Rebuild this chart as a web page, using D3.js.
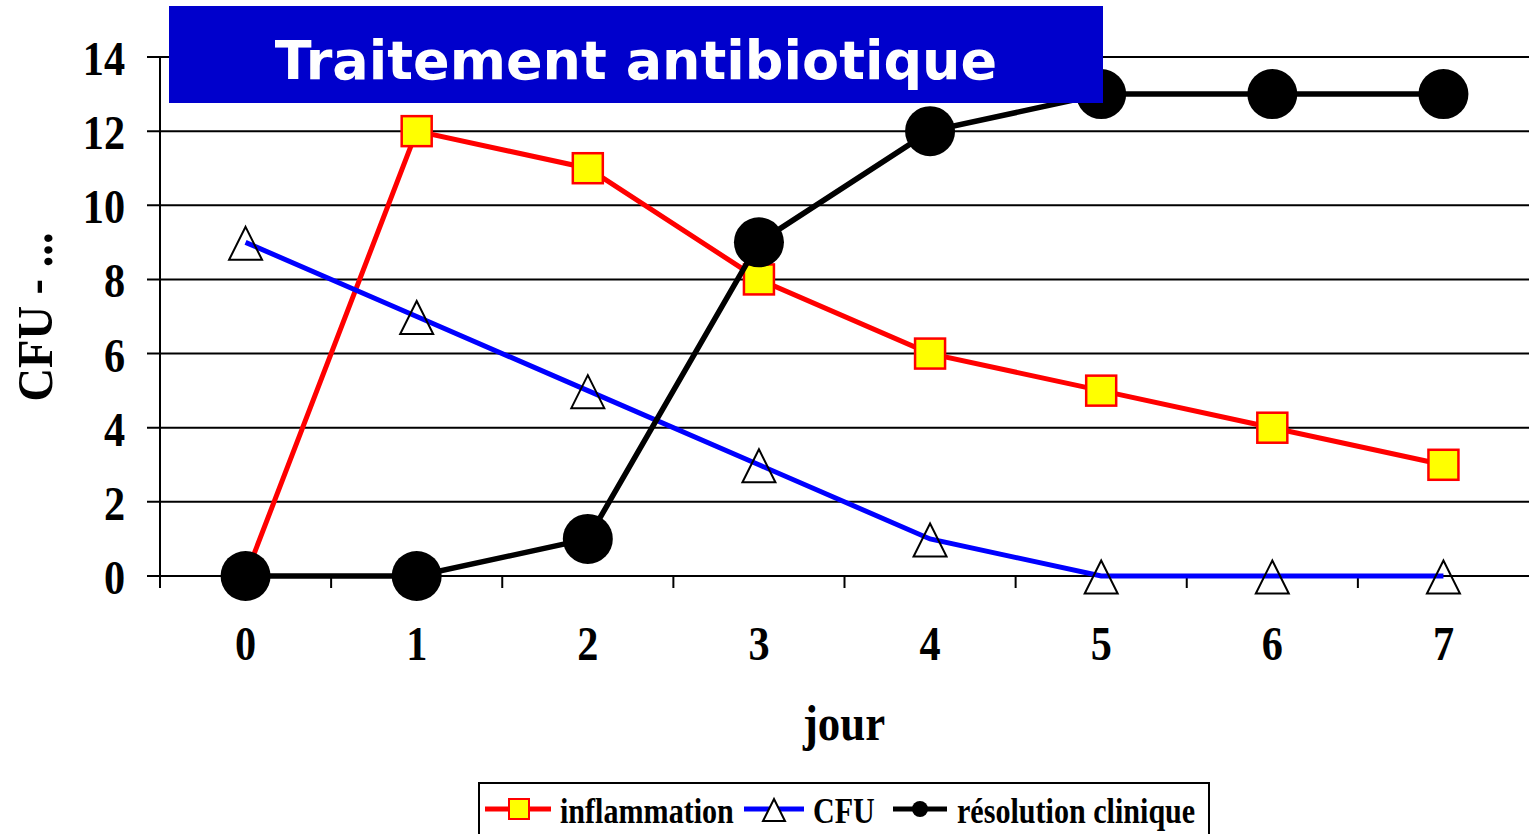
<!DOCTYPE html>
<html>
<head>
<meta charset="utf-8">
<script src="https://cdn.jsdelivr.net/npm/d3@7"></script>
<style>
  body { margin: 0; background: #fff; }
  svg text { font-family: "Liberation Serif", "Times New Roman", serif; font-weight: bold; }
</style>
</head>
<body>
<div id="chart"></div>
<script>
// Data
const days = [0, 1, 2, 3, 4, 5, 6, 7];
const inflammation = [0, 12, 11, 8, 6, 5, 4, 3];
const cfu = [9, 7, 5, 3, 1, 0, 0, 0];
const resolution = [0, 0, 1, 9, 12, 13, 13, 13];
const yTicks = [0, 2, 4, 6, 8, 10, 12, 14];

const width = 1529, height = 834;
const margin = { left: 160, right: 0, top: 57, bottom: 258 };
const squeeze = 0.88; // the original text is narrow, like a stretched Times

const svg = d3.select("#chart")
    .append("svg")
    .attr("width", width)
    .attr("height", height);

const x = d3.scaleBand()
    .domain(days)
    .range([margin.left, width - margin.right])
    .paddingInner(0).paddingOuter(0);

const y = d3.scaleLinear()
    .domain([0, 14])
    .range([height - margin.bottom, margin.top]);

const cx = d => x(d) + x.bandwidth() / 2;

// hollow triangle marker, about 33px wide and tall
const triangle = {
    draw(ctx, size) {
        const h = Math.sqrt(size);
        ctx.moveTo(0, -h / 2);
        ctx.lineTo(h / 2, h / 2);
        ctx.lineTo(-h / 2, h / 2);
        ctx.closePath();
    }
};

// Gridlines
svg.append("g")
    .selectAll("line")
    .data(yTicks)
    .enter()
    .append("line")
    .attr("x1", margin.left - 13)
    .attr("x2", width)
    .attr("y1", d => y(d))
    .attr("y2", d => y(d))
    .attr("stroke", "#000")
    .attr("stroke-width", 2);

// Y axis line
svg.append("line")
    .attr("x1", margin.left).attr("x2", margin.left)
    .attr("y1", y(14)).attr("y2", y(0) + 12)
    .attr("stroke", "#000").attr("stroke-width", 2);

// X ticks at category boundaries
svg.append("g")
    .selectAll("line")
    .data(days.slice(1))
    .enter()
    .append("line")
    .attr("x1", d => x(d)).attr("x2", d => x(d))
    .attr("y1", y(0)).attr("y2", y(0) + 12)
    .attr("stroke", "#000").attr("stroke-width", 2);

// Y tick labels
svg.append("g")
    .selectAll("text")
    .data(yTicks)
    .enter()
    .append("text")
    .attr("transform", d => `translate(125,${y(d) + 18}) scale(${squeeze},1)`)
    .attr("text-anchor", "end")
    .attr("font-size", "48px")
    .text(d => d);

// X tick labels
svg.append("g")
    .selectAll("text")
    .data(days)
    .enter()
    .append("text")
    .attr("transform", d => `translate(${cx(d)},660) scale(${squeeze},1)`)
    .attr("text-anchor", "middle")
    .attr("font-size", "48px")
    .text(d => d);

// Axis titles
svg.append("text")
    .attr("transform", `translate(844,740) scale(${squeeze},1)`)
    .attr("text-anchor", "middle")
    .attr("font-size", "51px")
    .text("jour");

svg.append("text")
    .attr("transform", "translate(52,317) rotate(-90) scale(0.93,1)")
    .attr("text-anchor", "middle")
    .attr("font-size", "50px")
    .text("CFU - ...");

const line = d3.line()
    .x((d, i) => cx(days[i]))
    .y(d => y(d));

// inflammation
svg.append("path")
    .datum(inflammation)
    .attr("d", line)
    .attr("fill", "none")
    .attr("stroke", "#ff0000")
    .attr("stroke-width", 5);

svg.append("g")
    .selectAll("rect")
    .data(inflammation)
    .enter()
    .append("rect")
    .attr("x", (d, i) => cx(days[i]) - 15)
    .attr("y", d => y(d) - 15)
    .attr("width", 30)
    .attr("height", 30)
    .attr("fill", "#ffff00")
    .attr("stroke", "#ff0000")
    .attr("stroke-width", 2.5);

// CFU
svg.append("path")
    .datum(cfu)
    .attr("d", line)
    .attr("fill", "none")
    .attr("stroke", "#0000ff")
    .attr("stroke-width", 5);

const tri = d3.symbol().type(triangle).size(33 * 33);
svg.append("g")
    .selectAll("path")
    .data(cfu)
    .enter()
    .append("path")
    .attr("d", tri)
    .attr("transform", (d, i) => `translate(${cx(days[i])},${y(d) + 1})`)
    .attr("fill", "none")
    .attr("stroke", "#000")
    .attr("stroke-width", 2);

// résolution clinique
svg.append("path")
    .datum(resolution)
    .attr("d", line)
    .attr("fill", "none")
    .attr("stroke", "#000")
    .attr("stroke-width", 5.5);

svg.append("g")
    .selectAll("circle")
    .data(resolution)
    .enter()
    .append("circle")
    .attr("cx", (d, i) => cx(days[i]))
    .attr("cy", d => y(d))
    .attr("r", 25)
    .attr("fill", "#000");

// Title box
svg.append("rect")
    .attr("x", 169).attr("y", 6)
    .attr("width", 934).attr("height", 97)
    .attr("fill", "#0000cc");

svg.append("text")
    .attr("x", 636).attr("y", 79)
    .attr("text-anchor", "middle")
    .attr("font-size", "54px")
    .attr("fill", "#fff")
    .style("font-family", "'Comic Sans MS', 'DejaVu Sans', sans-serif")
    .text("Traitement antibiotique");

// Legend
const legend = svg.append("g");
legend.append("rect")
    .attr("x", 479).attr("y", 783)
    .attr("width", 730).attr("height", 60)
    .attr("fill", "#fff")
    .attr("stroke", "#000")
    .attr("stroke-width", 2);

const ly = 809;
const legendText = (lx, txt) => legend.append("text")
    .attr("transform", `translate(${lx},${ly + 14}) scale(0.86,1)`)
    .attr("font-size", "35px")
    .text(txt);

legend.append("line").attr("x1", 485).attr("x2", 551).attr("y1", ly).attr("y2", ly)
    .attr("stroke", "#ff0000").attr("stroke-width", 5);
legend.append("rect").attr("x", 509).attr("y", ly - 10).attr("width", 20).attr("height", 20)
    .attr("fill", "#ffff00").attr("stroke", "#ff0000").attr("stroke-width", 2);
legendText(560, "inflammation");

legend.append("line").attr("x1", 744).attr("x2", 804).attr("y1", ly).attr("y2", ly)
    .attr("stroke", "#0000ff").attr("stroke-width", 5);
legend.append("path").attr("d", d3.symbol().type(triangle).size(22 * 22))
    .attr("transform", `translate(774,${ly + 1})`)
    .attr("fill", "#fff").attr("stroke", "#000").attr("stroke-width", 2);
legendText(813, "CFU");

legend.append("line").attr("x1", 893).attr("x2", 947).attr("y1", ly).attr("y2", ly)
    .attr("stroke", "#000").attr("stroke-width", 5);
legend.append("circle").attr("cx", 920).attr("cy", ly).attr("r", 8).attr("fill", "#000");
legendText(957, "résolution clinique");
</script>
</body>
</html>
